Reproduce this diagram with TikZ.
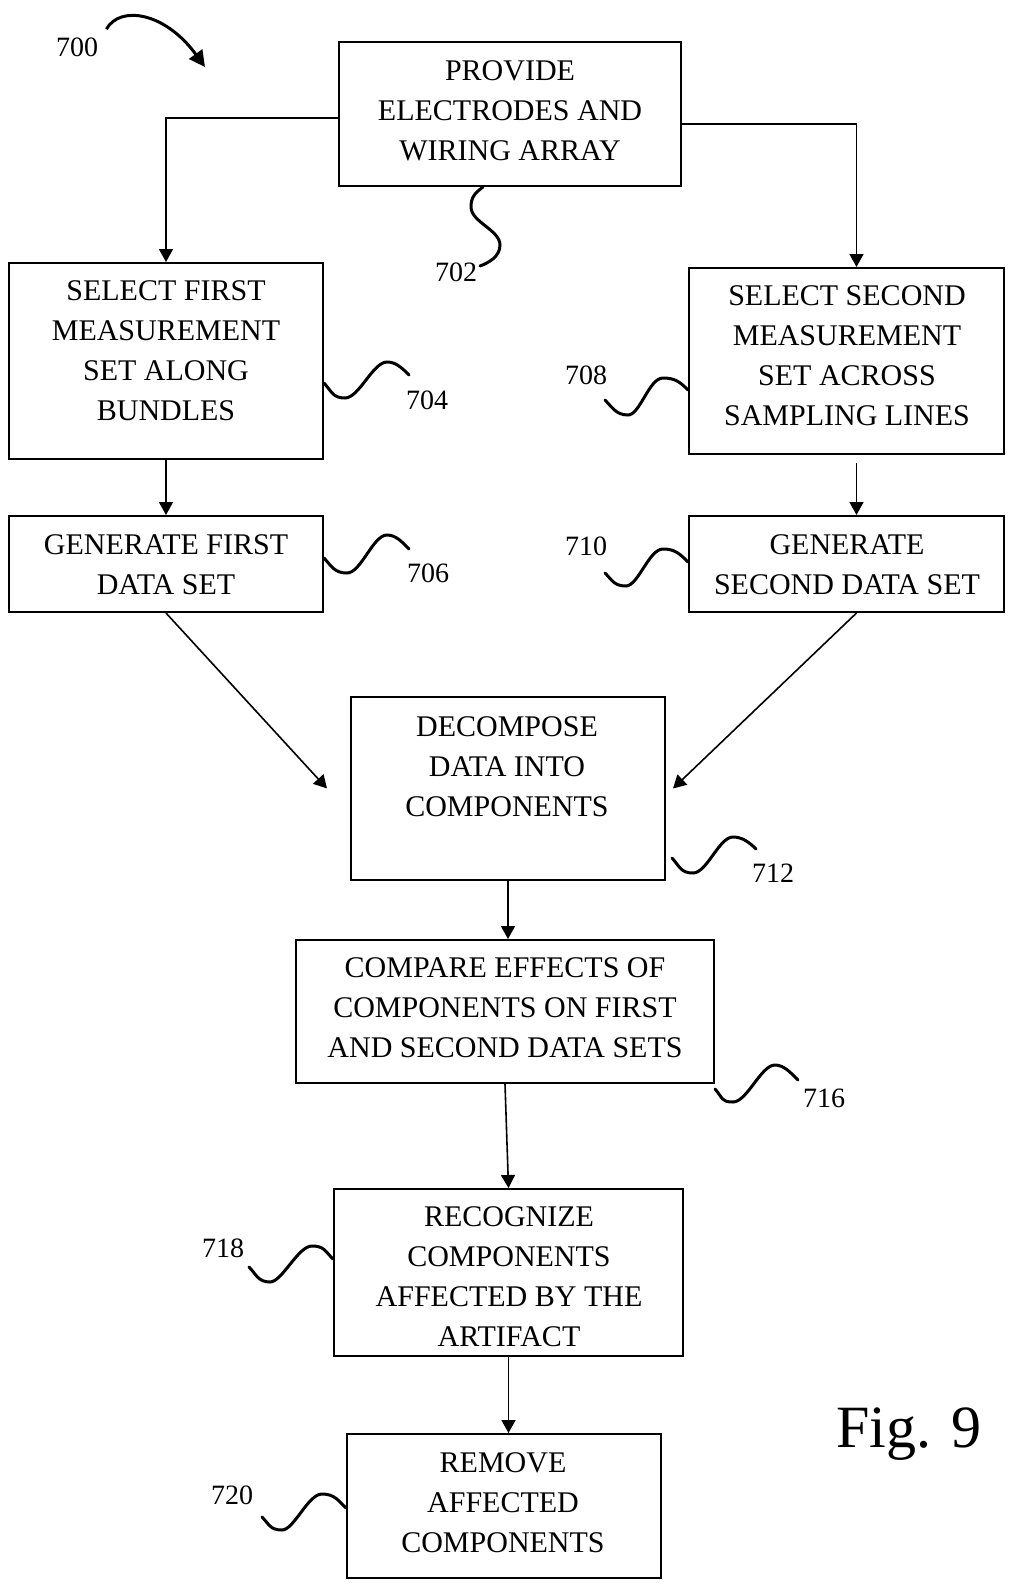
\documentclass[tikz,border=0pt]{standalone}
\usepackage{fontspec}
\setmainfont{Liberation Serif}
\usetikzlibrary{arrows.meta}

\begin{document}
\begin{tikzpicture}[x=0.5pt, y=-0.5pt,
        box/.style={draw, line width=1pt, inner sep=0pt},
        txt/.style={align=center, inner sep=0pt, font=\fontsize{15}{20}\selectfont},
        arr/.style={line width=0.8pt, -{Triangle[length=6.5pt, width=7pt]}},
        lead/.style={line width=1.5pt, line cap=round},
        lbl/.style={inner sep=0pt, font=\fontsize{14}{16}\selectfont}]
    \useasboundingbox (0,0) rectangle (1009,1585);

    % Kaesten
    \node[box, minimum width=171pt, minimum height=72pt] (b702) at (510,114) {};
    \node[box, minimum width=157pt, minimum height=98pt] (b704) at (166,361) {};
    \node[box, minimum width=157.5pt, minimum height=93pt] (b708) at (846.5,361) {};
    \node[box, minimum width=157pt, minimum height=48pt] (b706) at (166,564) {};
    \node[box, minimum width=157.5pt, minimum height=48pt] (b710) at (846.5,564) {};
    \node[box, minimum width=157pt, minimum height=91.5pt] (b712) at (508,788.5) {};
    \node[box, minimum width=209pt, minimum height=71.5pt] (b716) at (505,1011.5) {};
    \node[box, minimum width=174.5pt, minimum height=83.5pt] (b718) at (508.5,1272.5) {};
    \node[box, minimum width=157pt, minimum height=72pt] (b720) at (504,1506) {};

    % Texte
    \node[txt] (t702) at (510,111) {PROVIDE\\ELECTRODES AND\\WIRING ARRAY};
    \node[txt] (t704) at (166,350.5) {SELECT FIRST\\MEASUREMENT\\SET ALONG\\BUNDLES};
    \node[txt] (t708) at (847,356) {SELECT SECOND\\MEASUREMENT\\SET ACROSS\\SAMPLING LINES};
    \node[txt] (t706) at (166,564.5) {GENERATE FIRST\\DATA SET};
    \node[txt] (t710) at (847,564.5) {GENERATE\\SECOND DATA SET};
    \node[txt] (t712) at (507,766.5) {DECOMPOSE\\DATA INTO\\COMPONENTS};
    \node[txt] (t716) at (505,1007.5) {COMPARE EFFECTS OF\\COMPONENTS ON FIRST\\AND SECOND DATA SETS};
    \node[txt] (t718) at (509,1276.5) {RECOGNIZE\\COMPONENTS\\AFFECTED BY THE\\ARTIFACT};
    \node[txt] (t720) at (503,1503) {REMOVE\\AFFECTED\\COMPONENTS};

    % Pfeile
    \draw[arr] ([yshift=-2pt]b702.west) -| (b704.north);
    \draw[arr] ([yshift=-5pt]b702.east) -| ([xshift=5pt]b708.north);
    \draw[arr] (b704.south) -- (b706.north);
    \draw[arr] ([xshift=5pt, yshift=-4pt]b708.south) -- ([xshift=5pt]b710.north);
    \draw[arr] (b706.south) -- ([xshift=-11.5pt]b712.west);
    \draw[arr] ([xshift=5pt]b710.south) -- ([xshift=3.5pt]b712.east);
    \draw[arr] (b712.south) -- (b712.south |- b716.north);
    \draw[arr] (b716.south) -- (b718.north);
    \draw[arr] (b718.south) -- (b718.south |- b720.north);

    % Bezugszeichen
    \node[lbl] (l700) at (77,47) {700};
    \node[lbl] (l702) at (456,272) {702};
    \node[lbl] (l704) at (427,400) {704};
    \node[lbl] (l706) at (428,573) {706};
    \node[lbl] (l708) at (586,375) {708};
    \node[lbl] (l710) at (586,546) {710};
    \node[lbl] (l712) at (773,873) {712};
    \node[lbl] (l716) at (824,1098) {716};
    \node[lbl] (l718) at (223,1248) {718};
    \node[lbl] (l720) at (232,1495) {720};
    \node[anchor=base, inner sep=0pt, font=\fontsize{30}{36}\selectfont] (fig) at (909,1447) {Fig. 9};

    \draw[line width=1.5pt, -{Triangle[length=8pt, width=8pt]}] ([xshift=4pt, yshift=4pt]l700.north east)
        .. controls (120,5) and (165,12) .. (205,67);

    % Wellenlinien
    \draw[lead] ([xshift=-13.5pt]b702.south) .. controls +(-8,6) and +(0,-10) .. (471,207)
        .. controls +(0,15) and +(0,-15) .. (500,245) .. controls +(0,12) and +(8,-3) .. (480,266);
    \draw[lead] ([yshift=-11pt]b704.east) .. controls +(8,9) and +(-12,0) .. (345,398)
        .. controls +(14,0) and +(-14,0) .. (387,362) .. controls +(9,0) and +(-7,-7) .. (409,375);
    \draw[lead] ([yshift=3pt]b706.east) .. controls +(8,9) and +(-12,0) .. (347,573)
        .. controls +(14,0) and +(-14,0) .. (387,535) .. controls +(9,0) and +(-7,-7) .. (409,549);
    \draw[lead] (605,400) .. controls +(7,7) and +(-12,0) .. (628,415)
        .. controls +(12,0) and +(-14,0) .. (663,378) .. controls +(12,0) and +(-8,-8) .. ([yshift=-14.5pt]b708.west);
    \draw[lead] (605,573) .. controls +(7,7) and +(-12,0) .. (626,586)
        .. controls +(12,0) and +(-14,0) .. (663,549) .. controls +(12,0) and +(-8,-8) .. ([yshift=1pt]b710.west);
    \draw[lead] ([xshift=3pt, yshift=-34.75pt]b712.east) .. controls +(8,9) and +(-12,0) .. (693,873)
        .. controls +(14,0) and +(-14,0) .. (733,837) .. controls +(9,0) and +(-7,-7) .. (756,849);
    \draw[lead] ([yshift=-2.5pt]b716.south east) .. controls +(8,9) and +(-12,0) .. (733,1102)
        .. controls +(14,0) and +(-14,0) .. (775,1065) .. controls +(9,0) and +(-7,-7) .. (798,1080);
    \draw[lead] (249,1267) .. controls +(7,7) and +(-12,0) .. (270,1282)
        .. controls +(12,0) and +(-14,0) .. (312,1246) .. controls +(12,0) and +(-8,-8) .. ([yshift=6.75pt]b718.west);
    \draw[lead] (262,1517) .. controls +(7,7) and +(-12,0) .. (282,1530)
        .. controls +(12,0) and +(-14,0) .. (322,1494) .. controls +(12,0) and +(-8,-8) .. ([yshift=-1pt]b720.west);
\end{tikzpicture}
\end{document}
